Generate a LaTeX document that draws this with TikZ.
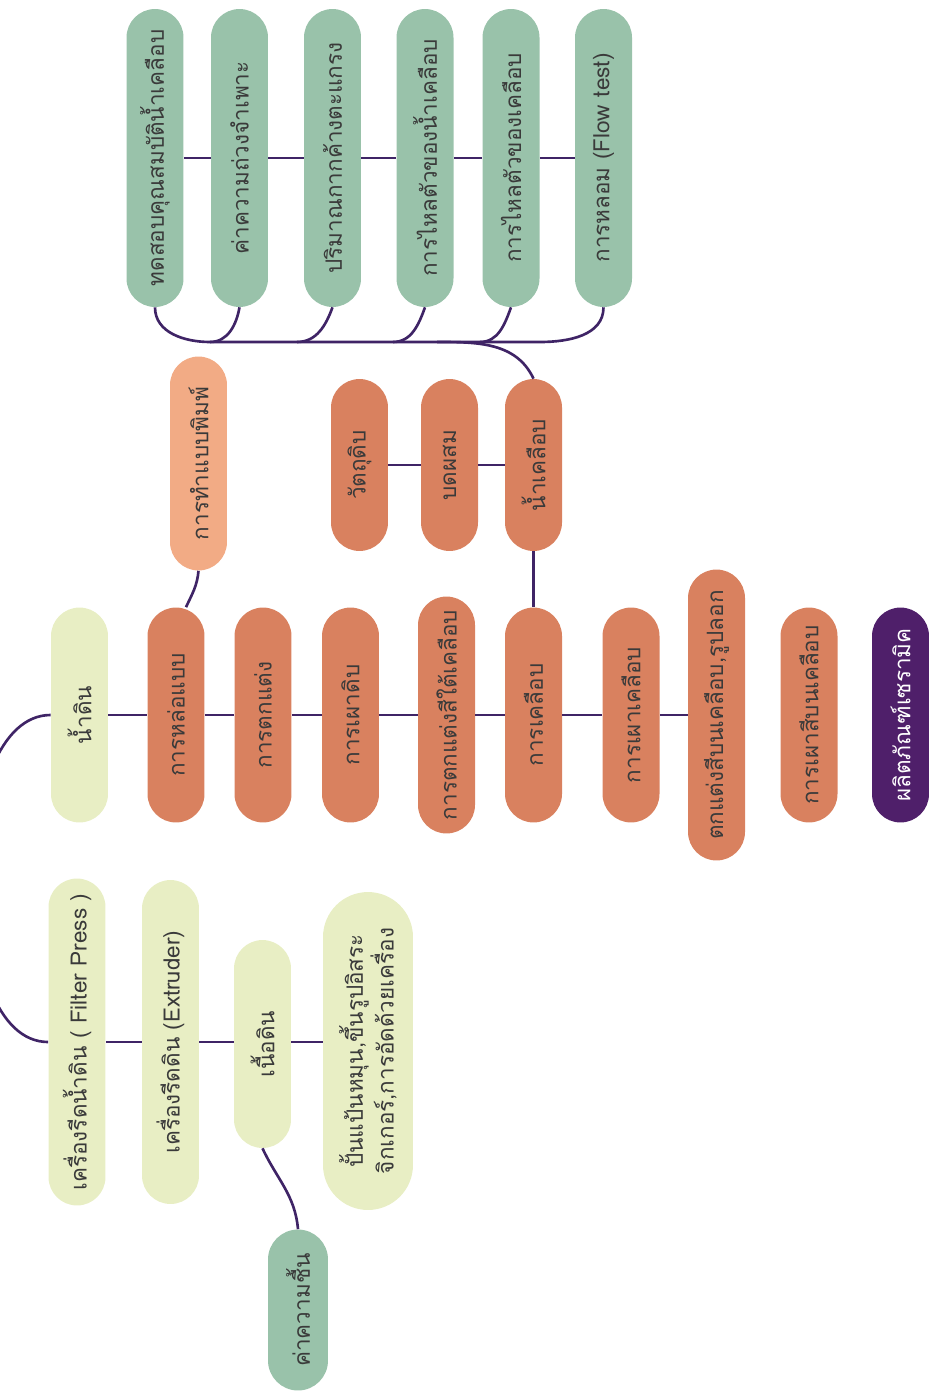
\documentclass[tikz,border=0pt]{standalone}
\usepackage{fontspec}
\usepackage{tikz}
\usetikzlibrary{positioning}
\usetikzlibrary{shapes.misc}
\newfontfamily\thaifont[Script=Thai]{Loma}
\definecolor{dinfill}{HTML}{E8EEC4}
\definecolor{procfill}{HTML}{D9815F}
\definecolor{moldfill}{HTML}{F2AB85}
\definecolor{testfill}{HTML}{99C2AA}
\definecolor{prodfill}{HTML}{4F1F6A}
\definecolor{linkcol}{HTML}{3F2466}
\definecolor{txtcol}{HTML}{3A3A3A}
\tikzset{
    flow/.style={x=0.02cm,y=-0.02cm,
                     link/.style={draw=linkcol,line width=1.5pt},
                     every edge/.style={link}},
    pill/.style={rounded rectangle, rotate=90, minimum height=1.14cm,
                     inner xsep=4pt, text=txtcol,
                     font=\thaifont\fontsize{12.8}{16}\selectfont},
    len/.style={minimum width=#1*0.02cm+0.3cm},
    dinbox/.style={pill, fill=dinfill},
    procbox/.style={pill, fill=procfill},
    moldbox/.style={pill, fill=moldfill},
    testbox/.style={pill, fill=testfill},
    prodbox/.style={pill, fill=prodfill, text=white},
    }

\begin{document}
\begin{tikzpicture}[flow]
            \useasboundingbox (0,0) rectangle (929,1396);

            % glaze tests
            \node[testbox, len=297] (t1) at (155,158) {ทดสอบคุณสมบัติน้ำเคลือบ};
            \node[testbox, len=297] (t2) at (239.5,158) {ค่าความถ่วงจำเพาะ};
            \node[testbox, len=297] (t3) at (332.5,158) {ปริมาณกากค้างตะแกรง};
            \node[testbox, len=297] (t4) at (425,158) {การไหลตัวของน้ำเคลือบ};
            \node[testbox, len=297] (t5) at (511,158) {การไหลตัวของเคลือบ};
            \node[testbox, len=297] (t6) at (603.5,158) {การหลอม (Flow test)};

            % glaze preparation
            \node[moldbox, len=213] (mold) at (198.5,463.5) {การทำแบบพิมพ์};
            \node[procbox, len=171] (raw) at (359.5,465) {วัตถุดิบ};
            \node[procbox, len=171] (mill) at (449.5,465) {บดผสม};
            \node[procbox, len=171] (glaze) at (533.5,465) {น้ำเคลือบ};

            % main line
            \node[dinbox, len=214] (water) at (79.5,715) {น้ำดิน};
            \node[procbox, len=214] (cast) at (176,715) {การหล่อแบบ};
            \node[procbox, len=214] (decor) at (263,715) {การตกแต่ง};
            \node[procbox, len=214] (bisque) at (350.5,715) {การเผาดิบ};
            \node[procbox, len=236] (under) at (446.5,715) {การตกแต่งสีใต้เคลือบ};
            \node[procbox, len=214] (glazing) at (533.5,715) {การเคลือบ};
            \node[procbox, len=214] (gfire) at (631,715) {การเผาเคลือบ};
            \node[procbox, len=290] (over) at (716.5,715) {ตกแต่งสีบนเคลือบ,รูปลอก};
            \node[procbox, len=214] (ofire) at (809,715) {การเผาสีบนเคลือบ};
            \node[prodbox, len=214] (product) at (900.5,715) {ผลิตภัณฑ์เซรามิค};

            % clay body
            \node[dinbox, len=326] (press) at (77,1042) {เครื่องรีดน้ำดิน ( Filter Press )};
            \node[dinbox, len=323] (extr) at (170.5,1042) {เครื่องรีดดิน (Extruder)};
            \node[dinbox, len=207] (clay) at (262.5,1044) {เนื้อดิน};
            \node[dinbox, len=317, minimum height=1.8cm, align=center] (forming) at (368,1051)
                {ปั้นแป้นหมุน,ขึ้นรูปอิสระ\\จิกเกอร์,การอัดด้วยเครื่อง};
            \node[testbox, len=160, minimum height=1.2cm] (moist) at (298,1310) {ค่าความชื้น};

            \coordinate (b1) at (210,342);
            \coordinate (b3) at (297,342);
            \coordinate (b4) at (393,342);
            \coordinate (b5) at (480,342);
            \coordinate (bg) at (437,342);
            \coordinate (b6) at (540,342);

            \path (t1.south) edge (t2.north);
            \path (t2.south) edge (t3.north);
            \path (t3.south) edge (t4.north);
            \path (t4.south) edge (t5.north);
            \path (t5.south) edge (t6.north);

            \draw[link] (t1.west) to[out=-90,in=180] (b1) -- (b6) to[out=0,in=-90] (t6.west);
            \path (t2.west) edge[out=-100,in=0] (b1);
            \path (t3.west) edge[out=-110,in=0] (b3);
            \path (t4.west) edge[out=-110,in=0] (b4);
            \path (t5.west) edge[out=-110,in=0] (b5);
            \path (glaze.east) edge[out=115,in=0] (bg);

            \path (raw.south) edge (mill.north);
            \path (mill.south) edge (glaze.north);
            \path (glaze.west) edge (glazing.east);
            \path (mold.west) edge[out=-95,in=65] ([xshift=0.2cm]cast.east);

            \path (water.south) edge (cast.north);
            \path (cast.south) edge (decor.north);
            \path (decor.south) edge (bisque.north);
            \path (bisque.south) edge (under.north);
            \path (under.south) edge (glazing.north);
            \path (glazing.south) edge (gfire.north);
            \path (gfire.south) edge (over.north);

            \path (water.north) edge[out=180,in=180,looseness=0.8] (press.north);
            \path (press.south) edge (extr.north);
            \path (extr.south) edge (extr.south -| clay.north);
            \path (extr.south -| clay.south) edge (extr.south -| forming.north);
            \path (clay.west) edge[out=-65,in=95] (moist.east);
        \end{tikzpicture}
\end{document}
